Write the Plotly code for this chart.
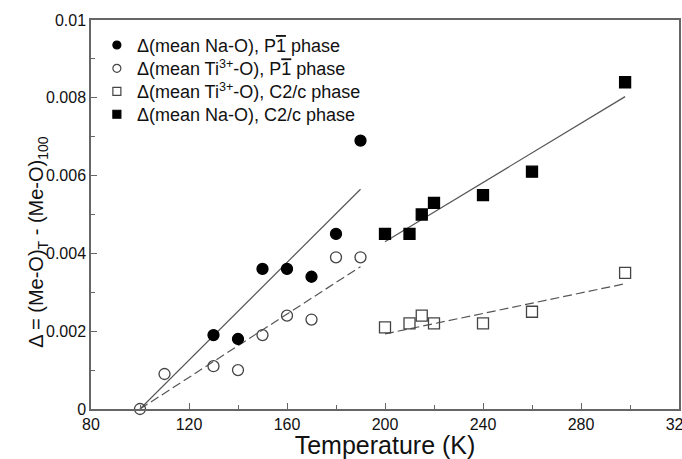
import plotly.graph_objects as go

# Temperatures (K) and bond-length differences for each series
na_p1_T = [130, 140, 150, 160, 170, 180, 190]
na_p1_d = [0.0019, 0.0018, 0.0036, 0.0036, 0.0034, 0.0045, 0.0069]

ti_p1_T = [100, 110, 130, 140, 150, 160, 170, 180, 190]
ti_p1_d = [0.0, 0.0009, 0.0011, 0.0010, 0.0019, 0.0024, 0.0023, 0.0039, 0.0039]

ti_c2_T = [200, 210, 215, 220, 240, 260, 298]
ti_c2_d = [0.0021, 0.0022, 0.0024, 0.0022, 0.0022, 0.0025, 0.0035]

na_c2_T = [200, 210, 215, 220, 240, 260, 298]
na_c2_d = [0.0045, 0.0045, 0.0050, 0.0053, 0.0055, 0.0061, 0.0084]

# Linear fit lines (end points)
fit_na_p1_T = [100, 190]
fit_na_p1_d = [0.0, 0.00565]
fit_ti_p1_T = [100, 190]
fit_ti_p1_d = [0.0, 0.00366]
fit_na_c2_T = [200, 298]
fit_na_c2_d = [0.00430, 0.00803]
fit_ti_c2_T = [200, 298]
fit_ti_c2_d = [0.00193, 0.00322]

# Axis ticks
x_ticks = [80, 120, 160, 200, 240, 280, 320]
x_labels = ["80", "120", "160", "200", "240", "280", "320"]
y_ticks = [0, 0.002, 0.004, 0.006, 0.008, 0.01]
y_labels = ["0", "0.002", "0.004", "0.006", "0.008", "0.01"]

P1BAR = "P<span style='text-decoration:overline'>1</span>"
legend_names = [
    f"\u0394(mean Na-O), {P1BAR} phase",
    f"\u0394(mean Ti<sup>3+</sup>-O), {P1BAR} phase",
    "\u0394(mean Ti<sup>3+</sup>-O), C2/c phase",
    "\u0394(mean Na-O), C2/c phase",
]

FONT = "Liberation Sans, Arial, sans-serif"
LINE_COL = "#555555"
OPEN_COL = "#444444"

fig = go.Figure()

# fit lines
fig.add_trace(go.Scatter(x=fit_na_p1_T, y=fit_na_p1_d, mode="lines",
                         line=dict(color=LINE_COL, width=1.2), showlegend=False))
fig.add_trace(go.Scatter(x=fit_ti_p1_T, y=fit_ti_p1_d, mode="lines",
                         line=dict(color=LINE_COL, width=1.2, dash="9px,4px"), showlegend=False))
fig.add_trace(go.Scatter(x=fit_na_c2_T, y=fit_na_c2_d, mode="lines",
                         line=dict(color=LINE_COL, width=1.2), showlegend=False))
fig.add_trace(go.Scatter(x=fit_ti_c2_T, y=fit_ti_c2_d, mode="lines",
                         line=dict(color=LINE_COL, width=1.2, dash="9px,4px"), showlegend=False))

# data markers; each series gets its own one-row legend so rows sit closer together
marker_specs = [
    (na_p1_T, na_p1_d, "circle", "black", "black"),
    (ti_p1_T, ti_p1_d, "circle-open", OPEN_COL, OPEN_COL),
    (ti_c2_T, ti_c2_d, "square-open", OPEN_COL, OPEN_COL),
    (na_c2_T, na_c2_d, "square", "black", "black"),
]
legend_ids = ["legend", "legend2", "legend3", "legend4"]
for (xs, ys, sym, col, lcol), name, lid in zip(marker_specs, legend_names, legend_ids):
    fig.add_trace(go.Scatter(
        x=xs, y=ys, mode="markers", cliponaxis=False, showlegend=False,
        marker=dict(symbol=sym, size=11, color=col, line=dict(color=lcol, width=1.3)),
    ))
    fig.add_trace(go.Scatter(
        x=[None], y=[None], mode="markers", name=name, legend=lid,
        marker=dict(symbol=sym, size=8, color=col, line=dict(color=lcol, width=1.2)),
    ))

axis_common = dict(
    showline=True, mirror=True, linecolor="#666666", linewidth=1.5,
    ticks="inside", ticklen=6, tickwidth=1.2, tickcolor="#666666",
    showgrid=False, zeroline=False, automargin=False,
    tickfont=dict(family=FONT, size=16, color="#111111"),
)

fig.update_xaxes(
    range=[80, 320], tickvals=x_ticks, ticktext=x_labels, ticklabeloverflow="allow",
    minor=dict(dtick=20, ticks="inside", ticklen=4, tickcolor="#666666", showgrid=False),
    title=dict(text="Temperature (K)", font=dict(family=FONT, size=25, color="#111111"), standoff=5),
    **axis_common,
)
fig.update_yaxes(
    range=[0, 0.01], tickvals=y_ticks, ticktext=y_labels,
    minor=dict(dtick=0.001, ticks="inside", ticklen=4, tickcolor="#666666", showgrid=False),
    **axis_common,
)

fig.add_annotation(
    text="\u0394 = (Me-O)<sub>T</sub> - (Me-O)<sub>100</sub>",
    xref="paper", yref="paper", x=-0.09, y=0.43,
    xanchor="center", yanchor="middle", textangle=-90, showarrow=False,
    font=dict(family=FONT, size=20, color="#111111"),
)

legend_style = dict(x=0.01, xanchor="left", yanchor="middle",
                    bgcolor="rgba(0,0,0,0)", font=dict(family=FONT, size=18, color="#111111"))
row_y = [0.935, 0.875, 0.816, 0.757]
fig.update_layout(
    width=682, height=459,
    margin=dict(l=91, r=3, t=20, b=50, autoexpand=False),
    paper_bgcolor="white", plot_bgcolor="white",
    legend=dict(y=row_y[0], **legend_style),
    legend2=dict(y=row_y[1], **legend_style),
    legend3=dict(y=row_y[2], **legend_style),
    legend4=dict(y=row_y[3], **legend_style),
)

fig.write_html("out.html")
